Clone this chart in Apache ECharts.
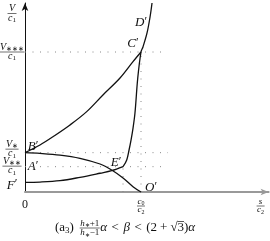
<!DOCTYPE html>
<html><head><meta charset="utf-8">
<script src="https://cdn.jsdelivr.net/npm/echarts@6/dist/echarts.min.js"></script>
<style>html,body{margin:0;padding:0;background:#fff}#c{width:270px;height:241px}</style>
</head><body><div id="c"></div>
<script>
// ---- data (x in units of c0/c2, y in units of V***/c1) ----
const curveBC = [[0,0.281],[0.129,0.336],[0.241,0.395],[0.388,0.479],[0.532,0.574],[0.672,0.693],[0.819,0.814],[0.931,0.931],[1,1]];
const curveAO = [[0,0.281],[0.129,0.276],[0.302,0.264],[0.474,0.241],[0.647,0.2],[0.747,0.157],[0.845,0.1],[0.931,0.038],[1,0]];
const curveFE = [[0,0.069],[0.129,0.071],[0.302,0.081],[0.474,0.105],[0.647,0.134],[0.747,0.152],[0.845,0.181]];
const curveED = [[0.845,0.181],[0.877,0.229],[0.897,0.3],[0.914,0.371],[0.931,0.455],[0.948,0.564],[0.972,0.814],[1,1],[1.017,1.036],[1.052,1.136],[1.078,1.25],[1.095,1.35]];
const yTickValues = [1, 0.281, 0.181];
const yTickNumerators = ['V∗∗∗', 'V∗', 'V∗∗'];
const xTickValues = [0, 1];
const xTickLabels = ['0', 'c0/c2'];
const hLevels = [[1, 1.207], [0.281, 1.233], [0.181, 1.224]];   // [y, x end]
const vLevels = [[1, 1], [0.845, 0.181]];                        // [x, y top]
const pointNames = ['B′','A′','F′','E′','O′','C′','D′'];
const pointAt = [[0,0.281],[0,0.181],[0,0.069],[0.845,0.181],[1,0],[1,1],[1.078,1.25]];
const xMax = 2.1, yMax = 1.35;

const FAM = 'Liberation Serif';
const FI = s => ({size:s, style:'italic'});
const FN = s => ({size:s, style:'normal'});
const mctx = document.createElement('canvas').getContext('2d');
function tw(t, f){ mctx.font = `${f.style} ${f.size}px "${FAM}"`; return mctx.measureText(t).width; }

function row(items, x, y, align){
  let w = 0; items.forEach(it => { it.w = tw(it.t, it.f) + (it.gap||0)*2; w += it.w; });
  let cx = align === 'center' ? x - w/2 : (align === 'right' ? x - w : x);
  const els = [];
  items.forEach(it => {
    const gx = cx + (it.gap||0);
    els.push({type:'text', x: gx, y: y + (it.dy||0), silent:true,
      style:{text: it.t, fontSize: it.f.size, fontFamily: FAM, fontStyle: it.f.style, fill:'#111', align:'left', verticalAlign:'middle'}});
    if (it.over) els.push({type:'line', silent:true, shape:{x1:gx, y1:y-it.over, x2:gx+tw(it.t,it.f), y2:y-it.over}, style:{stroke:'#111', lineWidth:0.7}});
    cx += it.w;
  });
  return {els, w};
}
function frac(numItems, denItems, cx, barY, up, down){
  const n = row(numItems, cx, barY - up, 'center');
  const d = row(denItems, cx, barY + down, 'center');
  const hw = Math.max(n.w, d.w)/2 + 0.5;
  return {els: n.els.concat(d.els, [{type:'line', silent:true, shape:{x1:cx-hw, y1:barY, x2:cx+hw, y2:barY}, style:{stroke:'#111', lineWidth:0.6}}]), w: hw*2};
}
function splitStar(s){
  return [{t:s[0], f:FI(10)}].concat(s.length>1 ? [{t:s.slice(1), f:FN(7), dy:2}] : []);
}
const c1 = () => [{t:'c', f:FI(10)}, {t:'1', f:FN(7), dy:2}];
const c2 = () => [{t:'c', f:FI(9)}, {t:'2', f:FN(6), dy:2}];

const chart = echarts.init(document.getElementById('c'), null, {renderer:'canvas'});
const dot = {color:'#888', width:1, type:[1,6.5]};
const series = [];
hLevels.forEach(([y, xe]) => series.push({type:'line', data:[[0,y],[xe,y]], showSymbol:false, lineStyle:dot, silent:true, z:1}));
vLevels.forEach(([x, yt]) => series.push({type:'line', data:[[x,0],[x,yt]], showSymbol:false, lineStyle:dot, silent:true, z:1}));
[curveBC, curveAO, curveFE, curveED].forEach(d => series.push({type:'line', data:d, showSymbol:false, smooth:0.35, clip:false,
  lineStyle:{color:'#111', width:1.3}, silent:true, z:3}));

chart.setOption({
  animation:false,
  grid:{left:25, top:3, right:1.4, bottom:49},
  xAxis:{type:'value', min:0, max:xMax, axisLabel:{show:false}, axisTick:{show:false}, splitLine:{show:false},
    axisLine:{lineStyle:{color:'#999', width:2}, symbol:['none','arrow'], symbolSize:[5,8]}},
  yAxis:{type:'value', min:0, max:yMax, axisLabel:{show:false}, axisTick:{show:false}, splitLine:{show:false},
    axisLine:{lineStyle:{color:'#111', width:1}, symbol:['none','arrow'], symbolSize:[5,8]}},
  series
});

const P = v => chart.convertToPixel({gridIndex:0}, v);
let g = [];
const axTop = P([0, yMax]);
g = g.concat(frac([{t:'V', f:FI(10)}], c1(), 12, axTop[1] + 10.5, 5, 4.5).els);
const yOff = [0, -3.5, -0.5];
yTickValues.forEach((v, i) => {
  const p = P([0, v]);
  g = g.concat(frac(splitStar(yTickNumerators[i]), c1(), 12, p[1] + yOff[i], 5, 4.5).els);
});
xTickValues.forEach((v, i) => {
  const p = P([v, 0]);
  if (xTickLabels[i] === '0') g = g.concat(row([{t:'0', f:FN(12)}], p[0], p[1] + 13, 'center').els);
  else g = g.concat(frac([{t:'c', f:FI(9)}, {t:'0', f:FN(6), dy:2}], c2(), p[0], p[1] + 14, 4.5, 4).els);
});
const xEnd = P([xMax, 0]);
g = g.concat(frac([{t:'s', f:FI(9)}], c2(), xEnd[0] - 8, xEnd[1] + 14, 4.5, 4).els);
const pOff = [[8,-6],[8,0],[-13,3],[-7,-4],[10,-4],[-8,-8],[-9,6]];
pointNames.forEach((n, i) => {
  const p = P(pointAt[i]);
  g = g.concat(row([{t:n[0], f:FI(13)}, {t:'′', f:FN(12), dy:-1}], p[0] + pOff[i][0], p[1] + pOff[i][1], 'center').els);
});
(function(){
  const y = 228;
  let x = 55;
  let r = row([{t:'(a', f:FN(13)}, {t:'3', f:FN(9), dy:3}, {t:')', f:FN(13)}, {t:' ', f:FN(13), gap:1}], x, y, 'left');
  g = g.concat(r.els); x += r.w;
  const numI = [{t:'h', f:FI(9)}, {t:'∗', f:FN(6), dy:2}, {t:'+1', f:FN(9)}];
  const denI = [{t:'h', f:FI(9)}, {t:'∗', f:FN(6), dy:2}, {t:'−1', f:FN(9)}];
  const wf = Math.max(numI.reduce((a,it)=>a+tw(it.t,it.f),0), denI.reduce((a,it)=>a+tw(it.t,it.f),0));
  const fr = frac(numI, denI, x + wf/2 + 1, y, 4.5, 5);
  g = g.concat(fr.els); x += fr.w + 1;
  r = row([{t:'α', f:FI(13)}, {t:'<', f:FN(13), gap:4.5}, {t:'β', f:FI(13)}, {t:'<', f:FN(13), gap:4.5},
           {t:'(2', f:FN(13)}, {t:'+', f:FN(13), gap:3}, {t:'√', f:FN(13)},
           {t:'3', f:FN(13), over:6.5}, {t:')', f:FN(13)}, {t:'α', f:FI(13)}], x, y, 'left');
  g = g.concat(r.els);
})();
chart.setOption({graphic:{elements:g}});
</script></body></html>
